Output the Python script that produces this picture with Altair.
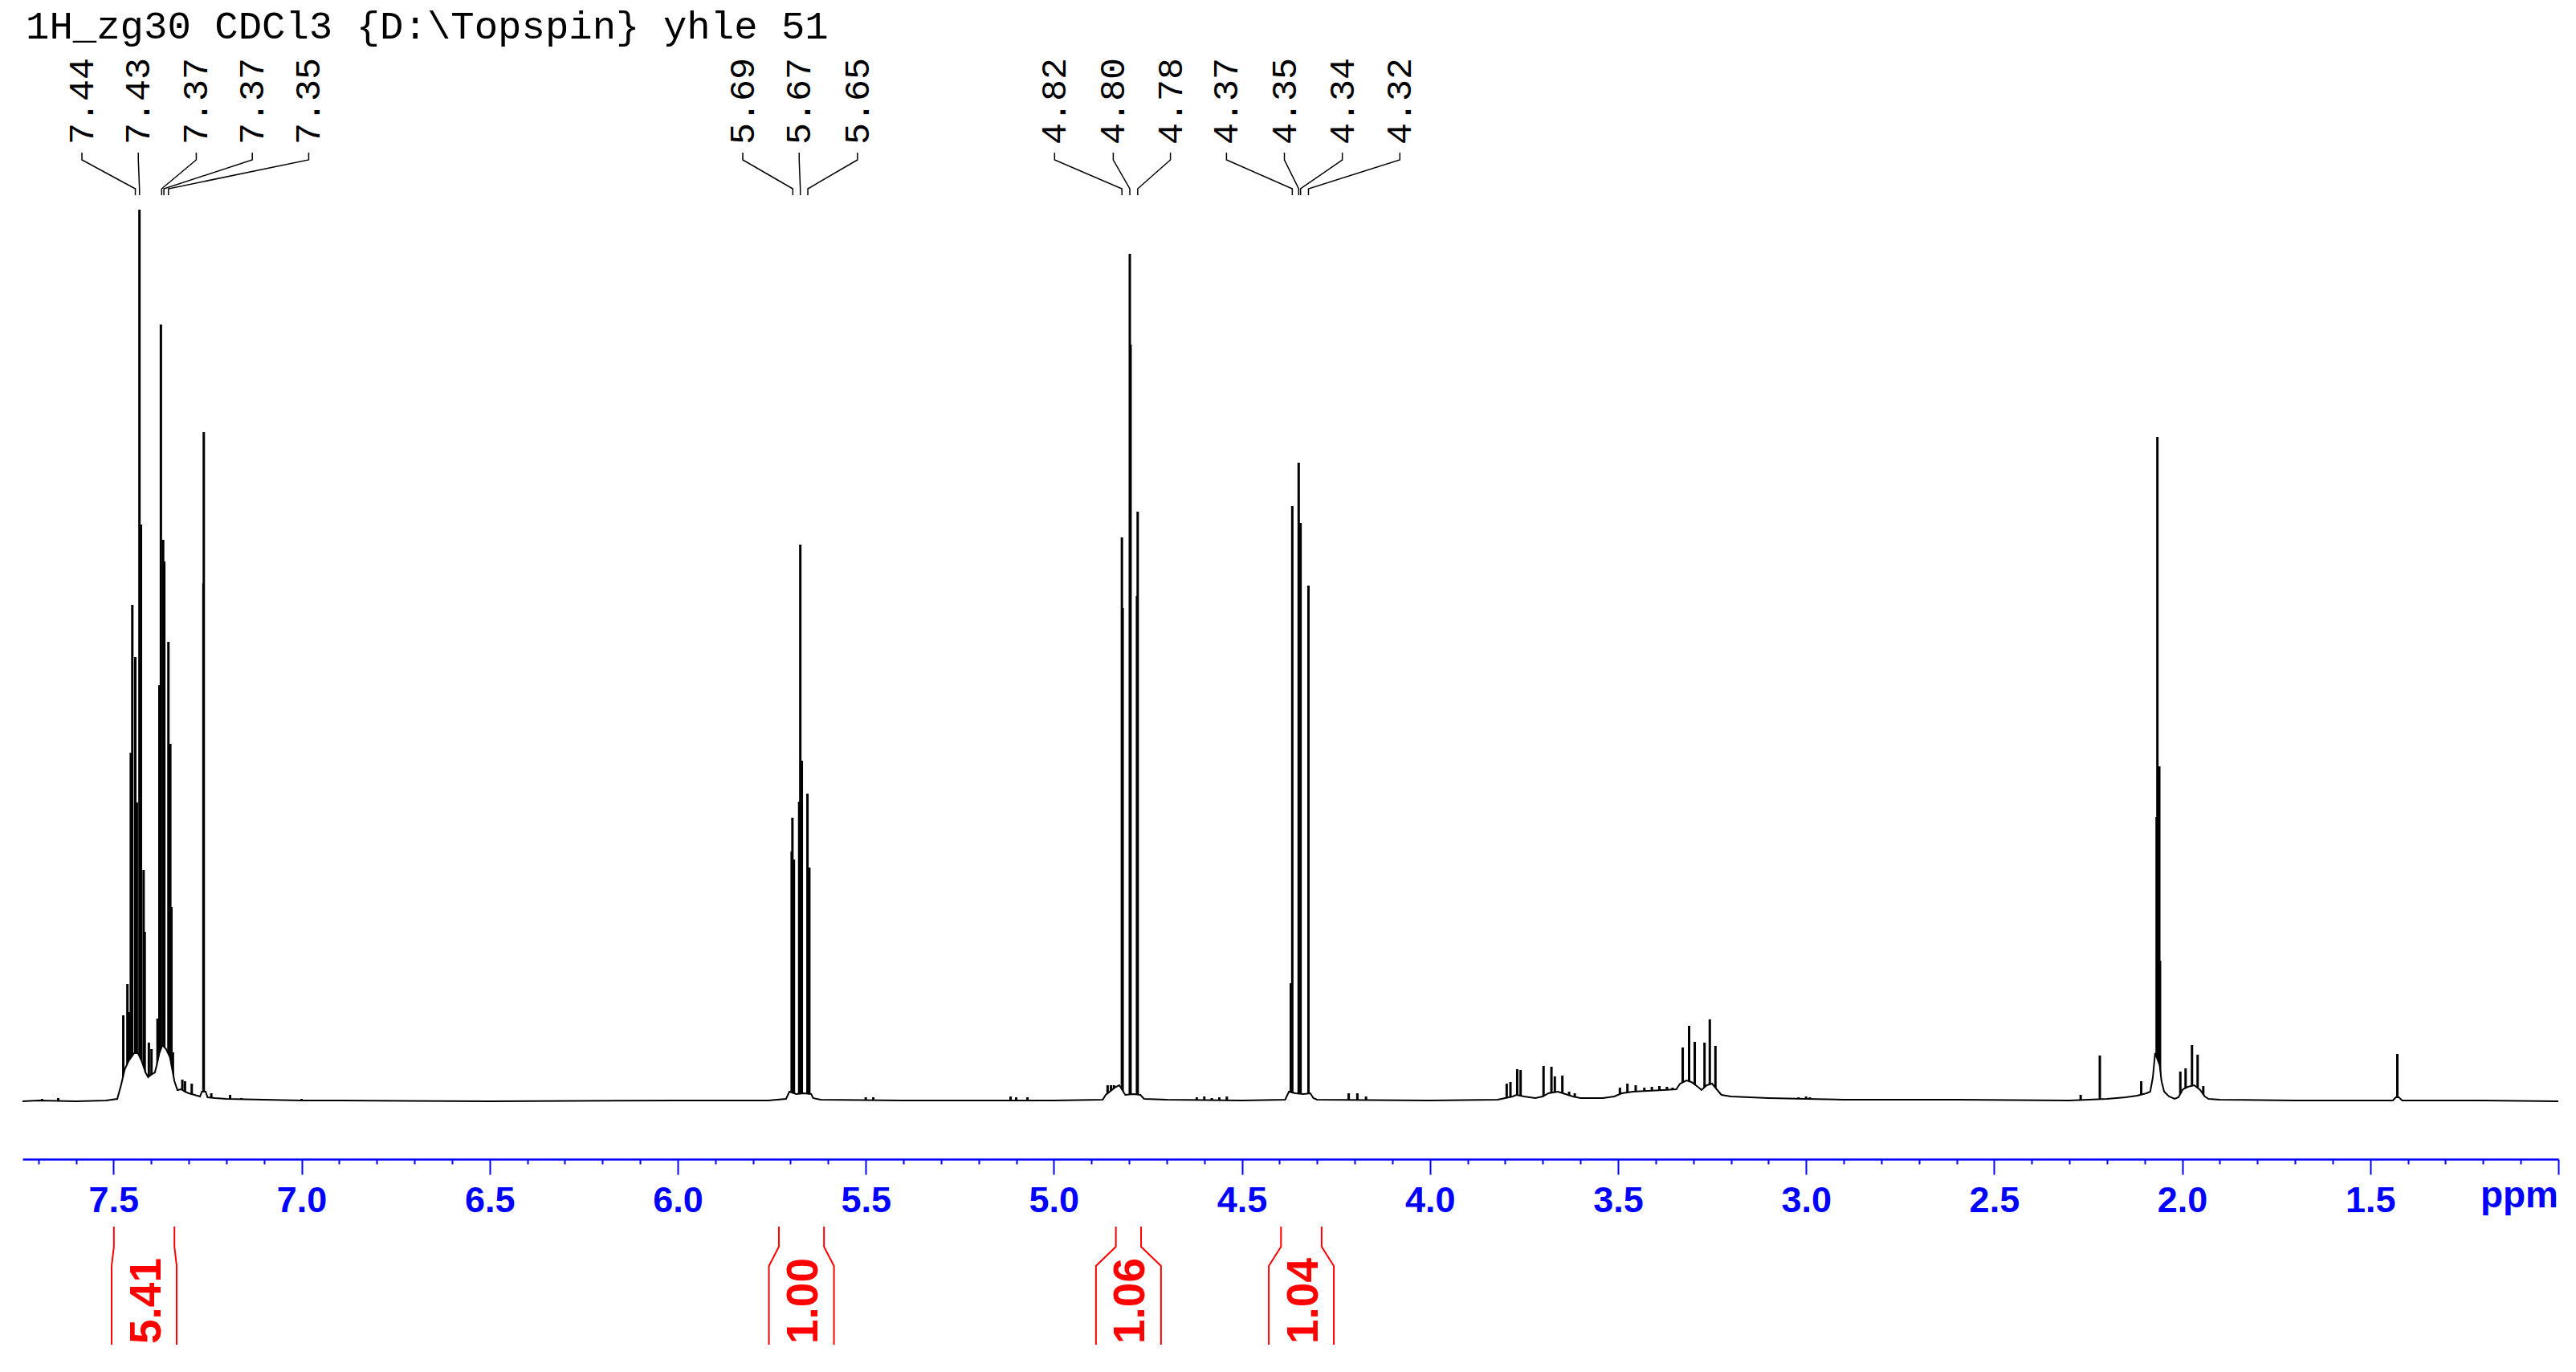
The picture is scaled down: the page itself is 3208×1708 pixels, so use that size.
import altair as alt
import pandas as pd

TITLE = "1H_zg30 CDCl3 {D:\\Topspin} yhle 51"

# ---- resolved spectral lines: shift (ppm) and intensity (a.u.) ----
stick_ppm = [7.690, 7.647, 7.474, 7.463, 7.457, 7.454, 7.450, 7.442, 7.438, 7.431,
             7.427, 7.420, 7.417, 7.406, 7.399, 7.383, 7.378, 7.374, 7.368, 7.365,
             7.354, 7.349, 7.346, 7.342, 7.317, 7.310, 7.292, 7.261, 7.260, 7.240,
             7.190, 7.160, 7.000,
             5.697, 5.695, 5.691, 5.677, 5.674, 5.670, 5.655, 5.650, 5.500, 5.480,
             5.115, 5.100, 5.070,
             4.857, 4.848, 4.840, 4.819, 4.817, 4.798, 4.796, 4.779, 4.777,
             4.620, 4.600, 4.580, 4.560, 4.540,
             4.370, 4.366, 4.349, 4.344, 4.323, 4.216, 4.193, 4.170,
             3.796, 3.786, 3.768, 3.759, 3.698, 3.677, 3.668, 3.648, 3.630, 3.615,
             3.495, 3.475, 3.453, 3.430, 3.410, 3.390, 3.370, 3.355,
             3.328, 3.311, 3.296, 3.270, 3.256, 3.241,
             3.020, 3.000, 2.990, 2.270, 2.219, 2.160, 2.130, 2.109,
             2.068, 2.066, 2.061, 2.059,
             2.005, 1.991, 1.974, 1.959, 1.944, 1.428]
stick_int = [3, 4, 107, 146, 111, 434, 618, 553, 372, 1110,
             718, 288, 211, 73, 65, 103, 518, 967, 699, 672,
             572, 445, 242, 61, 27, 25, 22, 645, 833, 10,
             8, 4, 3,
             311, 353, 301, 373, 693, 424, 383, 291, 5, 5,
             6, 5, 5,
             20, 20, 20, 702, 614, 1055, 942, 629, 734,
             5, 6, 4, 5, 6,
             147, 741, 795, 720, 642, 10, 10, 6,
             22, 24, 40, 39, 44, 43, 31, 32, 12, 10,
             17, 22, 20, 17, 18, 19, 18, 17,
             67, 94, 74, 73, 102, 69,
             5, 6, 5, 8, 57, 5, 6, 25,
             354, 827, 417, 175,
             37, 41, 70, 58, 19, 59]

# ---- baseline / multiplet envelope ----
base_ppm = [7.742, 7.70, 7.60, 7.52, 7.49, 7.480, 7.470, 7.460, 7.445, 7.435,
            7.425, 7.415, 7.408, 7.400, 7.390, 7.385, 7.378, 7.370, 7.360, 7.350,
            7.344, 7.338, 7.330, 7.320, 7.310, 7.300, 7.285, 7.270, 7.265, 7.255,
            7.250, 7.230, 7.200, 7.100, 7.000, 6.900, 6.500, 6.000, 5.760, 5.712,
            5.703, 5.685, 5.665, 5.645, 5.640, 5.620, 5.400, 5.000, 4.870, 4.862,
            4.835, 4.826, 4.810, 4.788, 4.770, 4.760, 4.700, 4.500, 4.385, 4.375,
            4.358, 4.336, 4.318, 4.310, 4.300, 4.000, 3.820, 3.800, 3.780, 3.770,
            3.750, 3.720, 3.700, 3.685, 3.660, 3.640, 3.620, 3.600, 3.540, 3.510,
            3.490, 3.460, 3.420, 3.380, 3.345, 3.335, 3.318, 3.305, 3.285, 3.278,
            3.264, 3.250, 3.236, 3.225, 3.200, 3.100, 3.000, 2.900, 2.600, 2.300,
            2.250, 2.200, 2.150, 2.120, 2.095, 2.085, 2.078, 2.072, 2.060, 2.055,
            2.048, 2.035, 2.020, 2.010, 1.998, 1.985, 1.968, 1.952, 1.940, 1.930,
            1.900, 1.700, 1.440, 1.432, 1.424, 1.415, 1.200, 1.000]
base_int = [0, 1, 0, 1, 3, 20, 40, 50, 60, 60,
            50, 36, 30, 33, 36, 45, 60, 70, 65, 55,
            40, 25, 14, 15, 12, 10, 8, 6, 12, 12,
            5, 4, 3, 2, 1, 1, 0, 1, 1, 3,
            12, 9, 10, 9, 4, 2, 1, 1, 2, 8,
            18, 20, 8, 9, 8, 3, 2, 1, 2, 12,
            10, 9, 10, 4, 2, 1, 2, 4, 6, 8,
            6, 4, 6, 10, 12, 9, 6, 4, 4, 6,
            10, 12, 13, 14, 15, 22, 26, 24, 17, 14,
            20, 22, 14, 8, 6, 4, 3, 2, 2, 1,
            2, 3, 5, 7, 10, 12, 30, 60, 45, 25,
            12, 6, 3, 5, 15, 18, 20, 14, 6, 3,
            2, 1, 1, 5, 5, 1, 1, 0]

# ---- peak picking labels ----
pick_ppm = [7.442, 7.431, 7.372, 7.366, 7.354, 5.694, 5.674, 5.654,
            4.819, 4.798, 4.777, 4.366, 4.349, 4.344, 4.323]

# ---- integrals ----
integ_from = [7.499, 5.731, 4.835, 4.396]
integ_to = [7.338, 5.611, 4.768, 4.288]
integ_value = [5.41, 1.00, 1.06, 1.04]

# ---------------- layout (not data) ----------------
PX_PER_PPM = 468.4
W, H = 3158, 1435
label_slot_ppm = [7.584, 7.434, 7.280, 7.131, 6.981, 5.827, 5.677, 5.522,
                  4.998, 4.842, 4.690, 4.541, 4.387, 4.233, 4.080]
LEAD_Y = [1181, 1172, 1136, 1128]
PICK_TEXT_Y = 1191
INT_Y = [-156, -181, -205, -303]
INT_TEXT_Y = -302
MIN_HALF = 40.5 / PX_PER_PPM

xscale = alt.Scale(domain=[1.0, 7.742], reverse=True, nice=False, zero=False)
yscale = alt.Scale(domain=[-72, 1363], nice=False, zero=False)

tick_vals = [round(7.7 - 0.1 * i, 1) for i in range(68)]
major = "abs(datum.value*2 - round(datum.value*2)) < 0.001"
xaxis = alt.Axis(
    values=tick_vals, title=None, grid=False,
    domainColor="#0000FF", domainWidth=2.5,
    tickColor="#0000FF", tickWidth=2,
    tickSize={"condition": {"test": major, "value": 19}, "value": 6},
    labelExpr=f"(({major}) && datum.value > 1.2) ? format(datum.value, '.1f') : ''",
    labelFont="Liberation Sans", labelFontWeight="bold", labelFontSize=45,
    labelColor="#0000FF", labelPadding=10, labelOverlap=False,
    labelFlush=False, labelBound=False,
)


def X():
    return alt.X("ppm:Q", scale=xscale, axis=xaxis)


def Y():
    return alt.Y("h:Q", scale=yscale, axis=None)


base_df = pd.DataFrame({"ppm": base_ppm, "h": base_int, "h0": [0] * len(base_ppm)})
stick_df = pd.DataFrame({"ppm": stick_ppm, "h": stick_int, "h0": [0] * len(stick_ppm)})

lead_rows = []
for i, (p, s) in enumerate(zip(pick_ppm, label_slot_ppm)):
    for k, (xx, yy) in enumerate(zip([s, s, p, p], LEAD_Y)):
        lead_rows.append({"id": i, "k": k, "ppm": xx, "h": yy})
lead_df = pd.DataFrame(lead_rows)
pick_df = pd.DataFrame({"ppm": label_slot_ppm, "h": [PICK_TEXT_Y] * len(pick_ppm),
                        "t": [f"{p:.2f}" for p in pick_ppm]})

int_rows = []
int_lab = []
for i, (a, b, v) in enumerate(zip(integ_from, integ_to, integ_value)):
    c = (a + b) / 2
    half = max((a - b) / 2, MIN_HALF)
    for side, top_x, bot_x in [(0, a, c + half), (1, b, c - half)]:
        for k, (xx, yy) in enumerate(zip([top_x, top_x, bot_x, bot_x], INT_Y)):
            int_rows.append({"seg": f"{i}-{side}", "k": k, "ppm": xx, "h": yy})
    int_lab.append({"ppm": c - 3 / PX_PER_PPM, "h": INT_TEXT_Y, "t": f"{v:.2f}"})
int_df = pd.DataFrame(int_rows)
int_lab_df = pd.DataFrame(int_lab)

sticks = alt.Chart(stick_df).mark_rule(color="black", strokeWidth=3).encode(
    x=X(), y=Y(), y2=alt.Y2("h0:Q"))
mask = alt.Chart(base_df).mark_area(color="white", opacity=1).encode(
    x=X(), y=Y(), y2=alt.Y2("h0:Q"))
base_line = alt.Chart(base_df).mark_line(color="black", strokeWidth=2).encode(x=X(), y=Y())
leaders = alt.Chart(lead_df).mark_line(color="black", strokeWidth=1.5).encode(
    x=X(), y=Y(), detail="id:N", order="k:Q")
pick_text = alt.Chart(pick_df).mark_text(
    angle=270, align="left", baseline="middle", font="Liberation Mono",
    fontSize=45, color="black").encode(x=X(), y=Y(), text="t:N")
int_lines = alt.Chart(int_df).mark_line(color="#FF0000", strokeWidth=2).encode(
    x=X(), y=Y(), detail="seg:N", order="k:Q")
int_text = alt.Chart(int_lab_df).mark_text(
    angle=270, align="left", baseline="middle",
    font="Liberation Sans Narrow, Liberation Sans", fontWeight="bold",
    fontSize=55, color="#FF0000").encode(x=X(), y=Y(), text="t:N")
title_text = alt.Chart(pd.DataFrame({"t": [TITLE]})).mark_text(
    align="left", baseline="alphabetic", font="Liberation Mono", fontSize=49,
    color="black").encode(x=alt.value(4), y=alt.value(40), text="t:N")
ppm_text = alt.Chart(pd.DataFrame({"t": ["ppm"]})).mark_text(
    align="right", baseline="alphabetic", font="Liberation Sans", fontWeight="bold",
    fontSize=46, color="#0000FF").encode(x=alt.value(W), y=alt.value(1495), text="t:N")

chart = alt.layer(
    sticks, mask, base_line, leaders, pick_text, int_lines, int_text, title_text, ppm_text
).properties(
    width=W, height=H, background="white",
    padding={"left": 20, "top": 0, "right": 14, "bottom": 257},
    autosize=alt.AutoSizeParams(type="none"),
).configure_view(stroke=None)

chart.save("out.html", embed_options={"renderer": "svg", "actions": False})
